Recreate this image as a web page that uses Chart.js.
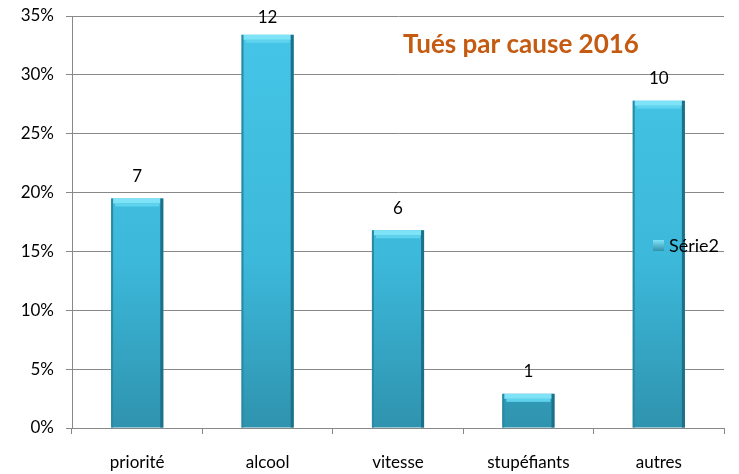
<!DOCTYPE html>
<html>
<head>
<meta charset="utf-8">
<script src="https://cdn.jsdelivr.net/npm/chart.js@4"></script>
<style>
  html, body { margin: 0; padding: 0; background: #fff; }
  #wrap { width: 739px; height: 474px; }
</style>
</head>
<body>
<div id="wrap"><canvas id="js--chartTues"></canvas></div>
<script>
// donnees
const causes = ['priorité', 'alcool', 'vitesse', 'stupéfiants', 'autres'];
const pourcentages = [19.5, 33.4, 16.8, 2.9, 27.8];
const nombres = [7, 12, 6, 1, 10];
const yTicks = [0, 5, 10, 15, 20, 25, 30, 35];
const titre = 'Tués par cause 2016';
const serie = 'Série2';

const FONT = "Lato, 'Open Sans', sans-serif";

function barFill(ctx) {
    const chart = ctx.chart;
    const area = chart.chartArea;
    if (!area) return '#3fbde0';
    const g = chart.ctx.createLinearGradient(0, area.top, 0, area.bottom);
    g.addColorStop(0, '#45c6e8');
    g.addColorStop(0.6, '#3cb8da');
    g.addColorStop(1, '#2f93ae');
    return g;
}

// etiquettes, reflets et titre
const decor = {
    id: 'decor',
    afterDatasetsDraw(chart) {
        const c = chart.ctx;
        const meta = chart.getDatasetMeta(0);
        c.save();
        meta.data.forEach((bar, i) => {
            const w = bar.width;
            const left = bar.x - w / 2;
            // cap clair en haut
            c.fillStyle = '#7fe3f8';
            c.fillRect(left + 1, bar.y, w - 2, 5);
            c.fillStyle = '#5fd3ee';
            c.fillRect(left + 4, bar.y + 5, w - 8, 3);
            // bords sombres
            c.fillStyle = '#1d7088';
            c.fillRect(left + w - 3, bar.y, 3, bar.base - bar.y);
            c.fillStyle = '#2a8aa4';
            c.fillRect(left, bar.y, 2, bar.base - bar.y);
            // etiquette
            c.fillStyle = '#000';
            c.font = '17px ' + FONT;
            c.textAlign = 'center';
            c.textBaseline = 'middle';
            c.fillText(String(nombres[i]), bar.x, Math.max(bar.y - 22, 18));
        });
        c.restore();
    },
    afterDraw(chart) {
        const c = chart.ctx;
        c.save();
        c.fillStyle = '#c55a11';
        c.font = 'bold 26px ' + FONT;
        c.textAlign = 'center';
        c.textBaseline = 'middle';
        c.fillText(titre, 521, 45);
        // legende
        const lg = c.createLinearGradient(0, 240, 0, 252);
        lg.addColorStop(0, '#7fe3f8');
        lg.addColorStop(1, '#2a8aa4');
        c.fillStyle = lg;
        c.fillRect(653, 240, 11, 11);
        c.fillStyle = '#000';
        c.font = '18px ' + FONT;
        c.textAlign = 'left';
        c.fillText(serie, 669, 246);
        c.restore();
    }
};

const config = {
    type: 'bar',
    data: {
        labels: causes,
        datasets: [{
            label: serie,
            data: pourcentages,
            backgroundColor: barFill,
            borderWidth: 0,
            barPercentage: 0.4,
            categoryPercentage: 1
        }]
    },
    options: {
        responsive: true,
        maintainAspectRatio: false,
        animation: false,
        layout: { padding: { top: 16, right: 15, left: 0, bottom: 0 } },
        plugins: {
            legend: { display: false },
            tooltip: { enabled: false }
        },
        scales: {
            x: {
                offset: true,
                grid: {
                    display: true,
                    drawOnChartArea: false,
                    drawTicks: true,
                    tickLength: 6,
                    color: '#888',
                    offset: true
                },
                border: { color: '#888', width: 1 },
                ticks: {
                    color: '#000',
                    font: { family: FONT, size: 17 },
                    padding: 18
                },
                afterFit(scale) {
                    scale.height = 46;
                    scale.paddingLeft = 0;
                    scale.paddingRight = 0;
                }
            },
            y: {
                min: 0,
                max: 35,
                afterBuildTicks(scale) {
                    scale.ticks = yTicks.map(v => ({ value: v }));
                },
                grid: {
                    color: '#888',
                    tickLength: 6
                },
                border: { color: '#888', width: 1 },
                ticks: {
                    color: '#000',
                    font: { family: FONT, size: 17 },
                    padding: 12,
                    callback: v => v + '%'
                },
                afterFit(scale) {
                    scale.width = 72;
                    scale.paddingTop = 0;
                    scale.paddingBottom = 0;
                }
            }
        }
    },
    plugins: [decor]
};

const Chart1 = new Chart(document.getElementById('js--chartTues'), config);
</script>
</body>
</html>
